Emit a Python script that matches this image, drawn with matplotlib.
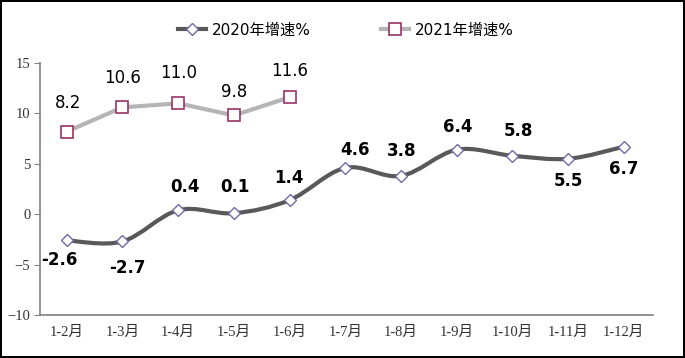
import numpy as np
import matplotlib
matplotlib.use('Agg')
import matplotlib.pyplot as plt
from matplotlib.path import Path
from matplotlib.patches import PathPatch
from matplotlib.lines import Line2D

months = ['1-2月', '1-3月', '1-4月', '1-5月', '1-6月', '1-7月',
          '1-8月', '1-9月', '1-10月', '1-11月', '1-12月']
growth_2020 = [-2.6, -2.7, 0.4, 0.1, 1.4, 4.6, 3.8, 6.4, 5.8, 5.5, 6.7]
growth_2021 = [8.2, 10.6, 11.0, 9.8, 11.6]

# label offsets in pixels (dx, dy)
off_2020 = [(-7, -20), (5, -27), (7, 23), (1, 26), (-1, 22), (10, 18),
            (1, 25), (1, 23), (6, 25), (0, -22), (0, -22)]
off_2021 = [(1, 29), (0, 29), (0, 30), (0, 23), (0, 26)]

c2020 = '#595959'
c2021 = '#b5b5b5'
sans = ['DejaVu Sans', 'Noto Sans CJK SC']
serif = ['Liberation Serif', 'Noto Sans CJK SC']

fig = plt.figure(figsize=(6.85, 3.58), dpi=100)
fig.patch.set_edgecolor('black')
fig.patch.set_linewidth(1.5)
ax = fig.add_axes([0.0584, 0.120, 0.8946, 0.704])

x = np.arange(len(months))

# smooth line for 2020 (bezier through the points)
pts = np.column_stack([x, growth_2020]).astype(float)
verts = [pts[0]]
codes = [Path.MOVETO]
n = len(pts)
for i in range(n - 1):
    p0 = pts[i - 1] if i > 0 else pts[i]
    p1 = pts[i]
    p2 = pts[i + 1]
    p3 = pts[i + 2] if i + 2 < n else pts[i + 1]
    verts += [p1 + (p2 - p0) / 6, p2 - (p3 - p1) / 6, p2]
    codes += [Path.CURVE4] * 3
ax.add_patch(PathPatch(Path(verts, codes), facecolor='none', edgecolor=c2020,
                       lw=3, zorder=2))
ax.plot(x, growth_2020, ls='none', marker='D', ms=6.5, mfc='white',
        mec='#6f6aa8', mew=1, zorder=3)

ax.plot(x[:len(growth_2021)], growth_2021, color=c2021, lw=3, marker='s',
        ms=8, mfc='white', mec='#993366', mew=1.2, zorder=3)

for xi, v, (dx, dy) in zip(x, growth_2020, off_2020):
    ax.annotate('%.1f' % v, (xi, v), xytext=(dx, dy), textcoords='offset pixels',
                ha='center', va='center', fontsize=12, fontweight='bold',
                family=sans, color='black')
for xi, v, (dx, dy) in zip(x, growth_2021, off_2021):
    ax.annotate('%.1f' % v, (xi, v), xytext=(dx, dy), textcoords='offset pixels',
                ha='center', va='center', fontsize=12, family=sans, color='black')

ax.set_xlim(-0.48, 10.52)
ax.set_ylim(-10, 15)
ax.set_yticks([-10, -5, 0, 5, 10, 15])
ax.set_yticklabels(['\u221210', '\u22125', '0', '5', '10', '15'])
ax.set_xticks(x)
ax.set_xticklabels(months)
for lab in ax.get_xticklabels() + ax.get_yticklabels():
    lab.set_family(serif)
    lab.set_fontsize(10.5)
    lab.set_color('#333333')

for s in ['top', 'right']:
    ax.spines[s].set_visible(False)
for s in ['left', 'bottom']:
    ax.spines[s].set_color('#808080')
    ax.spines[s].set_linewidth(1.2)
ax.tick_params(axis='y', length=4, color='#808080', pad=3)
ax.tick_params(axis='x', length=0, pad=8)

handles = [
    Line2D([], [], color=c2020, lw=3, marker='D', ms=6.5, mfc='white',
           mec='#6f6aa8', mew=1),
    Line2D([], [], color=c2021, lw=3, marker='s', ms=8, mfc='white',
           mec='#993366', mew=1.2),
]
fig.legend(handles, ['2020年增速%', '2021年增速%'], loc='center',
           bbox_to_anchor=(0.505, 0.916), ncol=2, frameon=False,
           prop={'family': sans, 'size': 11}, handlelength=1.8,
           columnspacing=4.6, handletextpad=0.4)

fig.savefig('out.png', dpi=100)
